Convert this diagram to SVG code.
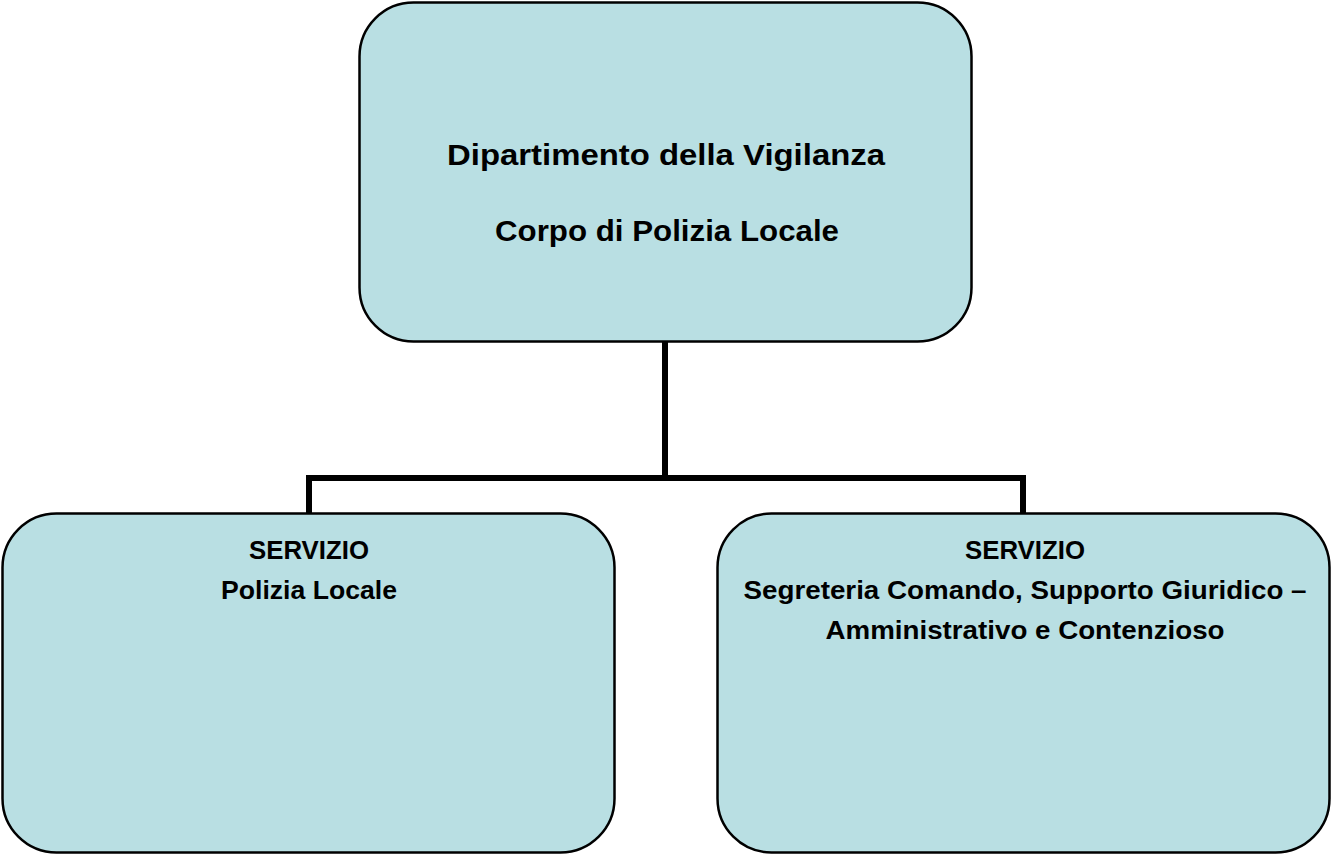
<svg xmlns="http://www.w3.org/2000/svg" width="1334" height="856" viewBox="0 0 1334 856">
<style>
.box{fill:#B9DFE3;stroke:#000;stroke-width:2.5}
.t{font-family:"Liberation Sans",Arial,sans-serif;font-weight:bold;fill:#000;text-anchor:middle}
.big{font-size:29px}
.sm{font-size:25px}
.conn{fill:none;stroke:#000;stroke-width:6}
</style>
<rect width="1334" height="856" fill="#fff"/>
<g id="connectors">
<path class="conn" d="M665,342 V478 M309,513 V478 H1023 V513"/>
</g>
<g id="top">
<rect class="box" x="359.5" y="2.5" width="612" height="339" rx="54" ry="54"/>
<text class="t big" x="666" y="165" textLength="438" lengthAdjust="spacingAndGlyphs">Dipartimento della Vigilanza</text>
<text class="t big" x="667" y="241" textLength="344" lengthAdjust="spacingAndGlyphs">Corpo di Polizia Locale</text>
</g>
<g id="left">
<rect class="box" x="2.5" y="513.5" width="612" height="339" rx="54" ry="54"/>
<text class="t sm" x="309" y="559" textLength="120" lengthAdjust="spacingAndGlyphs">SERVIZIO</text>
<text class="t sm" x="309" y="599" textLength="176" lengthAdjust="spacingAndGlyphs">Polizia Locale</text>
</g>
<g id="right">
<rect class="box" x="717.5" y="513.5" width="612" height="339" rx="54" ry="54"/>
<text class="t sm" x="1025" y="559" textLength="120" lengthAdjust="spacingAndGlyphs">SERVIZIO</text>
<text class="t sm" x="1025" y="599" textLength="563" lengthAdjust="spacingAndGlyphs">Segreteria Comando, Supporto Giuridico –</text>
<text class="t sm" x="1025" y="639" textLength="399" lengthAdjust="spacingAndGlyphs">Amministrativo e Contenzioso</text>
</g>
</svg>
